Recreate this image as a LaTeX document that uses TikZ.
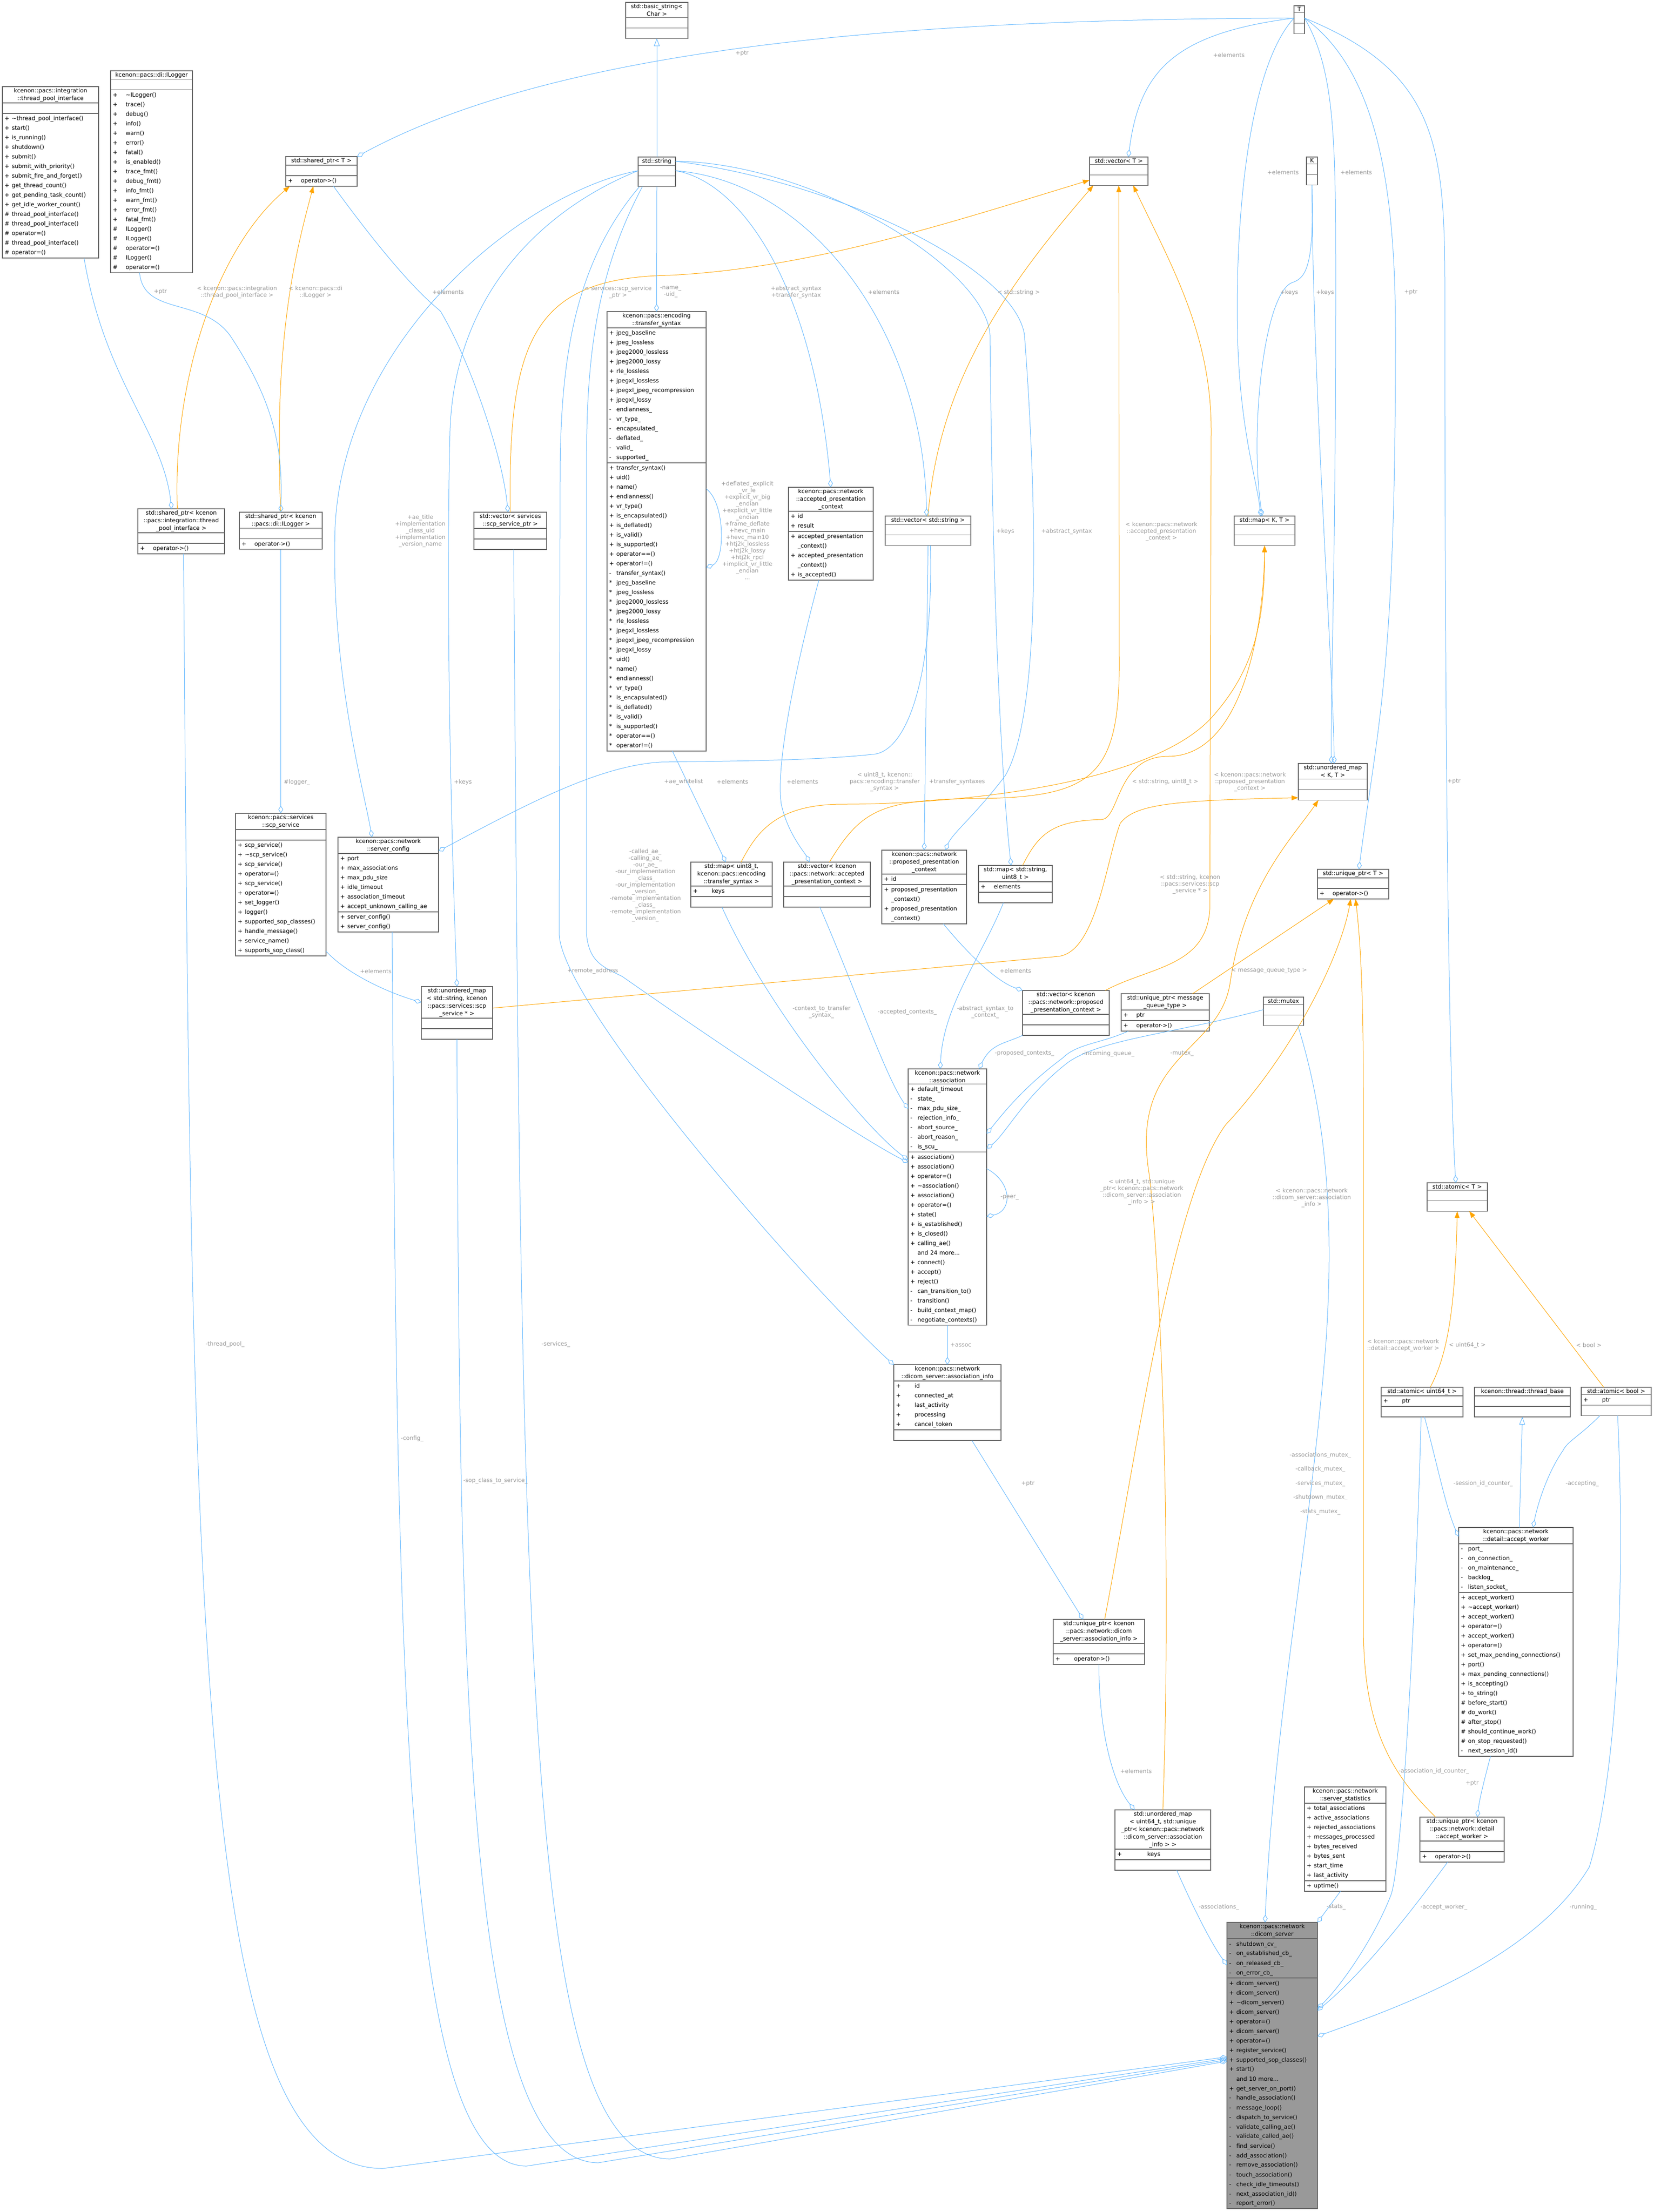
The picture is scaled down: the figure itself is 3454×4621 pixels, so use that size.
\documentclass[tikz,border=0pt]{standalone}
\usepackage{fontspec}
\setmainfont{DejaVu Sans}
\usetikzlibrary{arrows.meta}

\definecolor{boxline}{HTML}{666666}
\definecolor{edgeblue}{HTML}{63B8FF}
\definecolor{edgeorange}{HTML}{FFA500}
\definecolor{lblgray}{HTML}{9A9A9A}
\definecolor{dsfill}{HTML}{999999}

\newcommand\m[2]{\makebox[15pt][l]{#1}#2\strut}
\newcommand\tld{\textasciitilde}
% class box: title, attributes, methods
\newcommand\cls[8][]{%
  \pgfmathsetmacro\clsw{#5-9}
  \node[clstitle,minimum width=#5pt,text width=\clsw pt,#1] (#2) at (#3,#4) {#6};
  \node[clspart,minimum width=#5pt,text width=\clsw pt,#1] (#2-a) at (#2.south) {#7};
  \node[clspart,minimum width=#5pt,text width=\clsw pt,#1] (#2-m) at (#2-a.south) {#8};}

\tikzset{
  clstitle/.style={draw=boxline, line width=1.2pt, inner xsep=4pt, inner ysep=3pt,
    font=\fontsize{12}{16}\selectfont, align=center, anchor=north west, outer sep=0pt},
  clspart/.style={draw=boxline, line width=1.2pt, inner xsep=4pt, inner ysep=1pt,
    font=\fontsize{12}{20}\selectfont, align=left, anchor=north, outer sep=0pt},
  mem/.style={draw=edgeblue, line width=1pt,
    -{Diamond[open,length=16pt,width=10pt,line width=1pt]}},
  tpl/.style={draw=edgeorange, line width=1pt,
    -{Triangle[length=14pt,width=10pt,fill=edgeorange]}},
  inh/.style={draw=edgeblue, line width=1pt,
    -{Triangle[open,length=16pt,width=12pt,line width=1pt]}},
  lbl/.style={text=lblgray, font=\fontsize{12}{14}\selectfont, align=center, inner sep=1pt}
}

\begin{document}
\catcode`\_=12
\begin{tikzpicture}[x=1pt,y=-1pt]
\useasboundingbox (0,0) rectangle (3454,4621);
\fill[white] (0,0) rectangle (3454,4621);

% classes
\cls{tpi}{5}{181}{201}{kcenon::pacs::integration\\::thread_pool_interface}{\strut}
  {\m{+}{\tld thread_pool_interface()}\\\m{+}{start()}\\\m{+}{is_running()}\\\m{+}{shutdown()}\\
   \m{+}{submit()}\\\m{+}{submit_with_priority()}\\\m{+}{submit_fire_and_forget()}\\
   \m{+}{get_thread_count()}\\\m{+}{get_pending_task_count()}\\\m{+}{get_idle_worker_count()}\\
   \m{\#}{thread_pool_interface()}\\\m{\#}{thread_pool_interface()}\\\m{\#}{operator=()}\\
   \m{\#}{thread_pool_interface()}\\\m{\#}{operator=()}}
\cls{ilog}{231}{148}{171}{kcenon::pacs::di::ILogger}{\strut}
  {\m{+}{\quad\tld ILogger()}\\\m{+}{\quad trace()}\\\m{+}{\quad debug()}\\\m{+}{\quad info()}\\
   \m{+}{\quad warn()}\\\m{+}{\quad error()}\\\m{+}{\quad fatal()}\\\m{+}{\quad is_enabled()}\\
   \m{+}{\quad trace_fmt()}\\\m{+}{\quad debug_fmt()}\\\m{+}{\quad info_fmt()}\\\m{+}{\quad warn_fmt()}\\
   \m{+}{\quad error_fmt()}\\\m{+}{\quad fatal_fmt()}\\\m{\#}{\quad ILogger()}\\\m{\#}{\quad ILogger()}\\
   \m{\#}{\quad operator=()}\\\m{\#}{\quad ILogger()}\\\m{\#}{\quad operator=()}}
\cls{bstr}{1307}{5}{130}{std::basic_string<\\Char >}{\strut}{\strut}
\cls{spT}{597}{327}{149}{std::shared_ptr< T >}{\strut}{\m{+}{\quad operator->()}}
\cls{str}{1333}{328}{78}{std::string}{\strut}{\strut}
\cls{ts}{1268}{651}{207}{kcenon::pacs::encoding\\::transfer_syntax}
  {\m{+}{jpeg_baseline}\\\m{+}{jpeg_lossless}\\\m{+}{jpeg2000_lossless}\\\m{+}{jpeg2000_lossy}\\
   \m{+}{rle_lossless}\\\m{+}{jpegxl_lossless}\\\m{+}{jpegxl_jpeg_recompression}\\\m{+}{jpegxl_lossy}\\
   \m{-}{endianness_}\\\m{-}{vr_type_}\\\m{-}{encapsulated_}\\\m{-}{deflated_}\\\m{-}{valid_}\\\m{-}{supported_}}
  {\m{+}{transfer_syntax()}\\\m{+}{uid()}\\\m{+}{name()}\\\m{+}{endianness()}\\\m{+}{vr_type()}\\
   \m{+}{is_encapsulated()}\\\m{+}{is_deflated()}\\\m{+}{is_valid()}\\\m{+}{is_supported()}\\
   \m{+}{operator==()}\\\m{+}{operator!=()}\\\m{-}{transfer_syntax()}\\
   \m{*}{jpeg_baseline}\\\m{*}{jpeg_lossless}\\\m{*}{jpeg2000_lossless}\\\m{*}{jpeg2000_lossy}\\
   \m{*}{rle_lossless}\\\m{*}{jpegxl_lossless}\\\m{*}{jpegxl_jpeg_recompression}\\\m{*}{jpegxl_lossy}\\
   \m{*}{uid()}\\\m{*}{name()}\\\m{*}{endianness()}\\\m{*}{vr_type()}\\\m{*}{is_encapsulated()}\\
   \m{*}{is_deflated()}\\\m{*}{is_valid()}\\\m{*}{is_supported()}\\\m{*}{operator==()}\\\m{*}{operator!=()}}
\cls{sptp}{288}{1063}{181}{std::shared_ptr< kcenon\\::pacs::integration::thread\\_pool_interface >}{\strut}{\m{+}{\quad operator->()}}
\cls{spil}{500}{1070}{173}{std::shared_ptr< kcenon\\::pacs::di::ILogger >}{\strut}{\m{+}{\quad operator->()}}
\cls{vscp}{990}{1070}{152}{std::vector< services\\::scp_service_ptr >}{\strut}{\strut}
\cls{T}{2703}{12}{22}{T}{\strut}{\strut}
\cls{vT}{2276}{328}{122}{std::vector< T >}{\strut}{\strut}
\cls{K}{2729}{328}{23}{K}{\strut}{\strut}
\cls{mapKT}{2578}{1078}{127}{std::map< K, T >}{\strut}{\strut}
\cls{vstr}{1849}{1078}{179}{std::vector< std::string >}{\strut}{\strut}
\cls{apc}{1647}{1018}{177}{kcenon::pacs::network\\::accepted_presentation\\_context}
  {\m{+}{id}\\\m{+}{result}}
  {\m{+}{accepted_presentation}\\\m{}{_context()}\\\m{+}{accepted_presentation}\\\m{}{_context()}\\\m{+}{is_accepted()}}
\cls{umKT}{2712}{1595}{144}{std::unordered_map\\< K, T >}{\strut}{\strut}
\cls{upT}{2752}{1816}{149}{std::unique_ptr< T >}{\strut}{\m{+}{\quad operator->()}}
\cls{upmsg}{2342}{2076}{184}{std::unique_ptr< message\\_queue_type >}{\m{+}{\quad ptr}}{\m{+}{\quad operator->()}}
\cls{mtx}{2639}{2083}{84}{std::mutex}{\strut}{\strut}
\cls{vppc}{2136}{2069}{181}{std::vector< kcenon\\::pacs::network::proposed\\_presentation_context >}{\strut}{\strut}
\cls{assoc}{1897}{2233}{164}{kcenon::pacs::network\\::association}
  {\m{+}{default_timeout}\\\m{-}{state_}\\\m{-}{max_pdu_size_}\\\m{-}{rejection_info_}\\
   \m{-}{abort_source_}\\\m{-}{abort_reason_}\\\m{-}{is_scu_}}
  {\m{+}{association()}\\\m{+}{association()}\\\m{+}{operator=()}\\\m{+}{\tld association()}\\
   \m{+}{association()}\\\m{+}{operator=()}\\\m{+}{state()}\\\m{+}{is_established()}\\
   \m{+}{is_closed()}\\\m{+}{calling_ae()}\\\m{}{and 24 more...}\\\m{+}{connect()}\\\m{+}{accept()}\\
   \m{+}{reject()}\\\m{-}{can_transition_to()}\\\m{-}{transition()}\\\m{-}{build_context_map()}\\
   \m{-}{negotiate_contexts()}}
\cls{ainfo}{1867}{2851}{224}{kcenon::pacs::network\\::dicom_server::association_info}
  {\m{+}{\qquad id}\\\m{+}{\qquad connected_at}\\\m{+}{\qquad last_activity}\\\m{+}{\qquad processing}\\\m{+}{\qquad cancel_token}}{\strut}
\cls{upai}{2200}{3383}{191}{std::unique_ptr< kcenon\\::pacs::network::dicom\\_server::association_info >}{\strut}{\m{+}{\qquad operator->()}}
\cls{umai}{2329}{3781}{200}{std::unordered_map\\< uint64_t, std::unique\\_ptr< kcenon::pacs::network\\::dicom_server::association\\_info > >}{\m{+}{\qquad\qquad keys}}{\strut}
\cls{stats}{2725}{3733}{170}{kcenon::pacs::network\\::server_statistics}
  {\m{+}{total_associations}\\\m{+}{active_associations}\\\m{+}{rejected_associations}\\
   \m{+}{messages_processed}\\\m{+}{bytes_received}\\\m{+}{bytes_sent}\\\m{+}{start_time}\\\m{+}{last_activity}}
  {\m{+}{uptime()}}
\cls{au64}{2885}{2898}{171}{std::atomic< uint64_t >}{\m{+}{\qquad ptr}}{\strut}
\cls{tbase}{3080}{2898}{200}{kcenon::thread::thread_base}{\strut}{\strut}
\cls{abool}{3303}{2898}{146}{std::atomic< bool >}{\m{+}{\qquad ptr}}{\strut}
\cls{aT}{2981}{2471}{126}{std::atomic< T >}{\strut}{\strut}
\cls{aw}{3047}{3191}{239}{kcenon::pacs::network\\::detail::accept_worker}
  {\m{-}{port_}\\\m{-}{on_connection_}\\\m{-}{on_maintenance_}\\\m{-}{backlog_}\\\m{-}{listen_socket_}}
  {\m{+}{accept_worker()}\\\m{+}{\tld accept_worker()}\\\m{+}{accept_worker()}\\\m{+}{operator=()}\\
   \m{+}{accept_worker()}\\\m{+}{operator=()}\\\m{+}{set_max_pending_connections()}\\\m{+}{port()}\\
   \m{+}{max_pending_connections()}\\\m{+}{is_accepting()}\\\m{+}{to_string()}\\\m{\#}{before_start()}\\
   \m{\#}{do_work()}\\\m{\#}{after_stop()}\\\m{\#}{should_continue_work()}\\\m{\#}{on_stop_requested()}\\
   \m{-}{next_session_id()}}
\cls{upaw}{2966}{3796}{176}{std::unique_ptr< kcenon\\::pacs::network::detail\\::accept_worker >}{\strut}{\m{+}{\quad operator->()}}
\cls{m8ts}{1443}{1801}{170}{std::map< uint8_t,\\kcenon::pacs::encoding\\::transfer_syntax >}{\m{+}{\qquad keys}}{\strut}
\cls{vapc}{1637}{1801}{181}{std::vector< kcenon\\::pacs::network::accepted\\_presentation_context >}{\strut}{\strut}
\cls{ppc}{1842}{1776}{177}{kcenon::pacs::network\\::proposed_presentation\\_context}
  {\m{+}{id}}
  {\m{+}{proposed_presentation}\\\m{}{_context()}\\\m{+}{proposed_presentation}\\\m{}{_context()}}
\cls{mstr8}{2044}{1808}{154}{std::map< std::string,\\uint8_t >}{\m{+}{\quad elements}}{\strut}
\cls{scp}{492}{1699}{189}{kcenon::pacs::services\\::scp_service}{\strut}
  {\m{+}{scp_service()}\\\m{+}{\tld scp_service()}\\\m{+}{scp_service()}\\\m{+}{operator=()}\\
   \m{+}{scp_service()}\\\m{+}{operator=()}\\\m{+}{set_logger()}\\\m{+}{logger()}\\
   \m{+}{supported_sop_classes()}\\\m{+}{handle_message()}\\\m{+}{service_name()}\\\m{+}{supports_sop_class()}}
\cls{cfg}{706}{1749}{210}{kcenon::pacs::network\\::server_config}
  {\m{+}{port}\\\m{+}{max_associations}\\\m{+}{max_pdu_size}\\\m{+}{idle_timeout}\\
   \m{+}{association_timeout}\\\m{+}{accept_unknown_calling_ae}}
  {\m{+}{server_config()}\\\m{+}{server_config()}}
\cls{umscp}{880}{2061}{149}{std::unordered_map\\< std::string, kcenon\\::pacs::services::scp\\_service * >}{\strut}{\strut}
\cls[fill=dsfill]{ds}{2563}{4016}{189}{kcenon::pacs::network\\::dicom_server}
  {\m{-}{shutdown_cv_}\\\m{-}{on_established_cb_}\\\m{-}{on_released_cb_}\\\m{-}{on_error_cb_}}
  {\m{+}{dicom_server()}\\\m{+}{dicom_server()}\\\m{+}{\tld dicom_server()}\\\m{+}{dicom_server()}\\
   \m{+}{operator=()}\\\m{+}{dicom_server()}\\\m{+}{operator=()}\\\m{+}{register_service()}\\
   \m{+}{supported_sop_classes()}\\\m{+}{start()}\\\m{}{and 10 more...}\\\m{+}{get_server_on_port()}\\
   \m{-}{handle_association()}\\\m{-}{message_loop()}\\\m{-}{dispatch_to_service()}\\
   \m{-}{validate_calling_ae()}\\\m{-}{validate_called_ae()}\\\m{-}{find_service()}\\
   \m{-}{add_association()}\\\m{-}{remove_association()}\\\m{-}{touch_association()}\\
   \m{-}{check_idle_timeouts()}\\\m{-}{next_association_id()}\\\m{-}{report_error()}}

% inheritance
\draw[inh] (str.north) -- (bstr-m.south);
\draw[inh] ([xshift=7pt]aw.north) -- (tbase-m.south);

% template instances
\draw[tpl] ([xshift=-8pt]sptp.north) .. controls (360,800) and (450,520) .. ([xshift=-66pt]spT-m.south);
\draw[tpl] (spil.north) .. controls (570,700) and (620,520) .. ([xshift=-17pt]spT-m.south);
\draw[tpl] (vscp.north) .. controls (1060,700) and (1120,580) .. (1400,575) .. controls (1700,560) and (2000,460) .. (vT-m.west);
\draw[tpl] (vstr.north) .. controls (1960,800) and (2100,600) .. ([xshift=-53pt]vT-m.south);
\draw[tpl] ([xshift=5pt]vapc.north) .. controls (1800,1690) and (1840,1670) .. (2050,1668) .. controls (2280,1665) and (2335,1620) .. (2338,1400) -- (vT-m.south);
\draw[tpl] ([xshift=-8pt]vppc.north east) .. controls (2400,2020) and (2520,2020) .. (2527,1900) -- (2530,900) .. controls (2530,700) and (2450,560) .. ([xshift=30pt]vT-m.south);
\draw[tpl] ([xshift=20pt]m8ts.north) .. controls (1580,1740) and (1620,1680) .. (1760,1680) .. controls (2000,1680) and (2400,1640) .. (2530,1500) .. controls (2620,1400) and (2642,1300) .. (mapKT-m.south);
\draw[tpl] ([xshift=15pt]mstr8.north) .. controls (2170,1740) and (2200,1715) .. (2300,1712) .. controls (2340,1712) and (2330,1580) .. (2440,1580) .. controls (2600,1580) and (2640,1300) .. (mapKT-m.south);
\draw[tpl] ([yshift=-12pt]umscp.east) -- (2210,1998) .. controls (2290,1990) and (2310,1800) .. (2340,1720) .. controls (2370,1680) and (2450,1672) .. ([yshift=5pt]umKT-m.south west);
\draw[tpl] (umai.north) .. controls (2450,3200) and (2420,2600) .. (2400,2450) .. controls (2360,2200) and (2550,2200) .. (2570,2050) .. controls (2600,1850) and (2700,1750) .. ([xshift=-30pt]umKT-m.south);
\draw[tpl] ([xshift=-35pt]upmsg.north east) -- ([xshift=-40pt]upT-m.south);
\draw[tpl] ([xshift=12pt]upai.north) .. controls (2380,3000) and (2450,2500) .. (2560,2350) .. controls (2700,2200) and (2800,2000) .. ([xshift=-5pt]upT-m.south);
\draw[tpl] ([xshift=-55pt]upaw.north) .. controls (2900,3700) and (2848,3600) .. (2848,3400) -- (2848,2300) .. controls (2848,2050) and (2840,1950) .. ([xshift=5pt]upT-m.south);
\draw[tpl] ([xshift=17pt]au64.north) .. controls (3030,2820) and (3040,2700) .. (aT-m.south);
\draw[tpl] ([xshift=-26pt]abool.north) -- ([xshift=25pt]aT-m.south);

% members
\draw[mem] ([xshift=70pt]tpi-m.south) .. controls (220,800) and (340,900) .. ([xshift=-20pt]sptp.north);
\draw[mem] ([xshift=-25pt]ilog-m.south) .. controls (300,660) and (420,620) .. (480,700) .. controls (580,850) and (590,950) .. (spil.north);
\draw[mem] (T-a.west) .. controls (2000,40) and (1200,80) .. (spT.north east);
\draw[mem] (T-a.west) .. controls (2450,70) and (2380,150) .. ([xshift=20pt]vT.north);
\draw[mem] (T-a.west) .. controls (2600,150) and (2580,500) .. (2585,700) .. controls (2590,900) and (2625,1000) .. ([xshift=-8pt]mapKT.north);
\draw[mem] (T-a.east) .. controls (2790,150) and (2790,300) .. (2790,600) .. controls (2790,1200) and (2780,1400) .. ([xshift=-3pt]umKT.north);
\draw[mem] (K-m.south) .. controls (2745,550) and (2730,580) .. (2700,590) .. controls (2640,610) and (2610,900) .. ([xshift=-5pt]mapKT.north);
\draw[mem] (K-m.south) .. controls (2742,800) and (2785,1400) .. ([xshift=3pt]umKT.north);
\draw[mem] (T-a.east) .. controls (2880,150) and (2915,400) .. (2915,700) .. controls (2915,1400) and (2880,1500) .. ([xshift=12pt]upT.north);
\draw[mem] (T-a.east) .. controls (3000,150) and (3018,300) .. (3018,600) .. controls (3018,1800) and (3030,2300) .. ([xshift=-3pt]aT.north);
\draw[mem] ([xshift=25pt]spT-m.south) .. controls (850,600) and (910,640) .. (920,650) .. controls (980,750) and (1050,950) .. ([xshift=-5pt]vscp.north);
\draw[mem] (str-m.south) -- (ts.north);
\draw[mem] (str-a.east) .. controls (1550,380) and (1700,600) .. (apc.north);
\draw[mem] (str-a.east) .. controls (1700,380) and (1930,700) .. ([xshift=-3pt]vstr.north);
\draw[mem] (str.east) .. controls (1700,340) and (2060,560) .. (2068,700) .. controls (2075,1400) and (2100,1700) .. ([xshift=-9pt]mstr8.north);
\draw[mem] (str.east) .. controls (1750,380) and (2120,560) .. (2140,700) .. controls (2170,1100) and (2170,1500) .. (2100,1620) .. controls (2040,1700) and (1990,1740) .. ([xshift=44pt]ppc.north);
\draw[mem] (vstr-m.south) -- (ppc.north);
\draw[mem] ([xshift=5pt]vstr-m.south) .. controls (1950,1400) and (1900,1560) .. (1830,1575) .. controls (1700,1590) and (1500,1590) .. (1380,1592) .. controls (1250,1600) and (1100,1680) .. ([yshift=-12pt]cfg.east);
\draw[mem] (str-a.west) .. controls (1100,400) and (720,700) .. (700,1100) .. controls (690,1400) and (760,1650) .. ([xshift=-34pt]cfg.north);
\draw[mem] (str-a.west) .. controls (1150,430) and (950,600) .. (940,900) .. controls (930,1300) and (945,1800) .. (umscp.north);
\draw[mem] ([xshift=-30pt]str-m.south) .. controls (1230,600) and (1225,800) .. (1225,1000) -- (1225,1950) .. controls (1230,2010) and (1260,2020) .. (1300,2040) .. controls (1500,2180) and (1800,2380) .. ([yshift=-22pt]assoc-m.north west);
\draw[mem] ([xshift=-36pt]str-m.south) .. controls (1200,550) and (1170,750) .. (1170,1000) -- (1168,1950) .. controls (1170,2100) and (1700,2700) .. (ainfo.north west);
\draw[mem] ([xshift=-20pt]m8ts-m.south) .. controls (1600,2100) and (1800,2350) .. ([yshift=-17pt]assoc-m.north west);
\draw[mem] ([xshift=-15pt]vapc-m.south) .. controls (1780,2050) and (1850,2250) .. ([yshift=19pt]assoc-a.west);
\draw[mem] ([xshift=-25pt]mstr8-m.south) .. controls (2050,2000) and (1970,2100) .. ([xshift=-15pt]assoc.north);
\draw[mem] (vppc-m.south west) .. controls (2100,2180) and (2070,2180) .. ([xshift=-16pt]assoc.north east);
\draw[mem] ([xshift=15pt]upmsg-m.south west) .. controls (2300,2180) and (2250,2180) .. (2220,2210) .. controls (2140,2270) and (2100,2320) .. ([yshift=-33pt]assoc-a.east);
\draw[mem] (mtx-a.west) .. controls (2450,2160) and (2300,2170) .. (2230,2220) .. controls (2140,2290) and (2100,2370) .. ([yshift=-64pt]assoc-a.east);
\draw[mem] ([yshift=-35pt]assoc-m.north east) .. controls (2115,2470) and (2115,2530) .. ([yshift=-135pt]assoc-m.north east);
\draw[mem] ([yshift=-54pt]ts-m.north east) .. controls (1515,1050) and (1515,1170) .. ([yshift=-219pt]ts-m.north east);
\draw[mem] ([xshift=33pt]ts-m.south) -- ([xshift=-12pt]m8ts.north);
\draw[mem] ([xshift=-25pt]apc-m.south) .. controls (1660,1400) and (1620,1600) .. (1632,1680) .. controls (1645,1740) and (1680,1780) .. ([xshift=-36pt]vapc.north);
\draw[mem] ([xshift=40pt]ppc-m.south) .. controls (2020,1990) and (2080,2050) .. (vppc.north west);
\draw[mem] (spil-m.south) -- (scp.north);
\draw[mem] ([yshift=10pt]scp-m.south east) .. controls (720,2030) and (800,2070) .. (umscp.west);
\draw[mem] (assoc-m.south) -- (ainfo.north);
\draw[mem] ([xshift=51pt]ainfo-m.south) -- ([xshift=-33pt]upai.north);
\draw[mem] (upai-m.south) .. controls (2295,3600) and (2320,3720) .. ([xshift=-59pt]umai.north);
\draw[mem] ([xshift=29pt]umai-m.south) .. controls (2490,3980) and (2530,4060) .. ([yshift=-14pt]ds-a.west);
\draw[mem] ([xshift=30pt]mtx-m.south) .. controls (2760,2300) and (2790,2500) .. (2770,2800) .. controls (2740,3200) and (2660,3600) .. ([xshift=-15pt]ds.north);
\draw[mem] ([xshift=-10pt]stats-m.south) -- (ds.north east);
\draw[mem] ([xshift=-2pt]au64-m.south) .. controls (2960,3300) and (2930,3900) .. (2905,3960) .. controls (2870,4050) and (2800,4150) .. ([yshift=-64pt]ds-m.north east);
\draw[mem] ([xshift=-30pt]upaw-m.south) .. controls (2950,3990) and (2850,4120) .. ([yshift=-68pt]ds-m.north east);
\draw[mem] ([xshift=3pt]abool-m.south) .. controls (3395,3300) and (3380,3700) .. (3320,3900) .. controls (3200,4100) and (2900,4200) .. ([yshift=-122pt]ds-m.north east);
\draw[mem] ([xshift=5pt]au64-m.south) .. controls (3000,3050) and (3020,3150) .. ([yshift=-2pt]aw.west);
\draw[mem] ([xshift=-34pt]abool-m.south) .. controls (3300,3000) and (3275,3010) .. (3265,3030) .. controls (3230,3080) and (3210,3150) .. ([xshift=36pt]aw.north);
\draw[mem] ([xshift=-53pt]aw-m.south) .. controls (3100,3720) and (3090,3760) .. ([xshift=32pt]upaw.north);
\draw[mem] ([xshift=5pt]sptp-m.south) .. controls (400,3500) and (420,4530) .. (800,4530) -- ([yshift=-165pt]ds-m.north west);
\draw[mem] ([xshift=8pt]cfg-m.south) .. controls (830,3500) and (840,4525) .. (1100,4525) -- ([yshift=-168pt]ds-m.north west);
\draw[mem] (umscp-m.south) .. controls (960,3500) and (970,4518) .. (1250,4518) -- ([yshift=-171pt]ds-m.north west);
\draw[mem] ([xshift=7pt]vscp-m.south) .. controls (1090,3500) and (1100,4510) .. (1400,4510) -- ([yshift=-174pt]ds-m.north west);

% edge labels
\node[lbl] (l01) at (335,610) {+ptr};
\node[lbl] (l02) at (495,610) {< kcenon::pacs::integration\\::thread_pool_interface >};
\node[lbl] (l03) at (659,610) {< kcenon::pacs::di\\::ILogger >};
\node[lbl] (l04) at (936,610) {+elements};
\node[lbl] (l05) at (1291,610) {< services::scp_service\\_ptr >};
\node[lbl] (l06) at (1401,610) {-name_\\-uid_};
\node[lbl] (l07) at (1663,610) {+abstract_syntax\\+transfer_syntax};
\node[lbl] (l08) at (1846,610) {+elements};
\node[lbl] (l09) at (2128,611) {< std::string >};
\node[lbl] (l10) at (1550,112) {+ptr};
\node[lbl] (l11) at (2567,115) {+elements};
\node[lbl] (l12) at (2680,360) {+elements};
\node[lbl] (l13) at (2833,360) {+elements};
\node[lbl] (l14) at (2693,611) {+keys};
\node[lbl] (l15) at (2768,611) {+keys};
\node[lbl] (l16) at (2947,611) {+ptr};
\node[lbl] (l17) at (2100,1110) {+keys};
\node[lbl] (l18) at (2228,1110) {+abstract_syntax};
\node[lbl] (l19) at (2426,1110) {< kcenon::pacs::network\\::accepted_presentation\\_context >};
\node[lbl] (l20) at (878,1109) {+ae_title\\+implementation\\_class_uid\\+implementation\\_version_name};
\node[lbl] (l21) at (1561,1108) {+deflated_explicit\\_vr_le\\+explicit_vr_big\\_endian\\+explicit_vr_little\\_endian\\+frame_deflate\\+hevc_main\\+hevc_main10\\+htj2k_lossless\\+htj2k_lossy\\+htj2k_rpcl\\+implicit_vr_little\\_endian\\...};
\node[lbl] (l22) at (620,1634) {\#logger_};
\node[lbl] (l23) at (967,1634) {+keys};
\node[lbl] (l24) at (1428,1633) {+ae_whitelist};
\node[lbl] (l25) at (1530,1633) {+elements};
\node[lbl] (l26) at (1676,1633) {+elements};
\node[lbl] (l27) at (1848,1633) {< uint8_t, kcenon::\\pacs::encoding::transfer\\_syntax >};
\node[lbl] (l28) at (1999,1633) {+transfer_syntaxes};
\node[lbl] (l29) at (2434,1633) {< std::string, uint8_t >};
\node[lbl] (l30) at (2611,1633) {< kcenon::pacs::network\\::proposed_presentation\\_context >};
\node[lbl] (l31) at (3037,1633) {+ptr};
\node[lbl] (l32) at (2486,1847) {< std::string, kcenon\\::pacs::services::scp\\_service * >};
\node[lbl] (l33) at (1348,1849) {-called_ae_\\-calling_ae_\\-our_ae_\\-our_implementation\\_class_\\-our_implementation\\_version_\\-remote_implementation\\_class_\\-remote_implementation\\_version_};
\node[lbl] (l34) at (785,2029) {+elements};
\node[lbl] (l35) at (1238,2028) {+remote_address};
\node[lbl] (l36) at (2121,2028) {+elements};
\node[lbl] (l37) at (2651,2028) {< message_queue_type >};
\node[lbl] (l38) at (1716,2114) {-context_to_transfer\\_syntax_};
\node[lbl] (l39) at (1895,2114) {-accepted_contexts_};
\node[lbl] (l40) at (2058,2114) {-abstract_syntax_to\\_context_};
\node[lbl] (l41) at (2140,2200) {-proposed_contexts_};
\node[lbl] (l42) at (2315,2201) {-incoming_queue_};
\node[lbl] (l43) at (2469,2201) {-mutex_};
\node[lbl] (l44) at (2109,2502) {-peer_};
\node[lbl] (l45) at (2385,2490) {< uint64_t, std::unique\\_ptr< kcenon::pacs::network\\::dicom_server::association\\_info > >};
\node[lbl] (l46) at (2740,2502) {< kcenon::pacs::network\\::dicom_server::association\\_info >};
\node[lbl] (l47) at (2007,2810) {+assoc};
\node[lbl] (l48) at (470,2808) {-thread_pool_};
\node[lbl] (l49) at (1161,2808) {-services_};
\node[lbl] (l50) at (2931,2810) {< kcenon::pacs::network\\::detail::accept_worker >};
\node[lbl] (l51) at (3065,2810) {< uint64_t >};
\node[lbl] (l52) at (3319,2810) {< bool >};
\node[lbl] (l53) at (861,3005) {-config_};
\node[lbl] (l54) at (1035,3093) {-sop_class_to_service_};
\node[lbl] (l55) at (2147,3099) {+ptr};
\node[lbl,font=\fontsize{12}{29.5}\selectfont] (l56) at (2758,3099) {-associations_mutex_\\-callback_mutex_\\-services_mutex_\\-shutdown_mutex_\\-stats_mutex_};
\node[lbl] (l57) at (3098,3099) {-session_id_counter_};
\node[lbl] (l58) at (3305,3099) {-accepting_};
\node[lbl] (l59) at (2373,3700) {+elements};
\node[lbl] (l60) at (2995,3700) {-association_id_counter_};
\node[lbl] (l61) at (3075,3725) {+ptr};
\node[lbl] (l62) at (2546,3984) {-associations_};
\node[lbl] (l63) at (2791,3984) {-stats_};
\node[lbl] (l64) at (3016,3984) {-accept_worker_};
\node[lbl] (l65) at (3307,3984) {-running_};
\end{tikzpicture}
\end{document}
